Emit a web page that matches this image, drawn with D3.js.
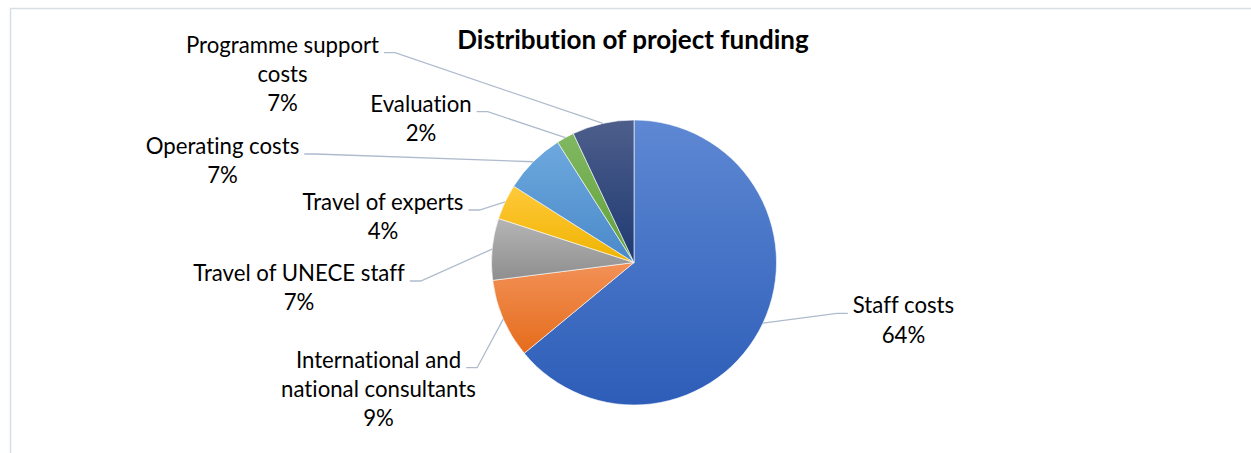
<!DOCTYPE html>
<html>
<head>
<meta charset="utf-8">
<script src="https://cdn.jsdelivr.net/npm/d3@7"></script>
<style>
  html, body { margin: 0; padding: 0; background: #fff; }
  svg { display: block; }
  text { font-variant-ligatures: none; font-feature-settings: "liga" 0, "clig" 0; }
</style>
</head>
<body>
<script>
// Budget lines, clockwise from 12 o'clock
const categories = [
  "Staff costs",
  "International and national consultants",
  "Travel of UNECE staff",
  "Travel of experts",
  "Operating costs",
  "Evaluation",
  "Programme support costs"
];
// Share of total funding, in percent
const shares = [64, 9, 7, 4, 7, 2, 7];
// Vertical gradient per slice: top colour, bottom colour
const topColors    = ["#5E88D3", "#F29157", "#B5B5B5", "#FFC93A", "#6DA9DE", "#80B862", "#4D5E8B"];
const bottomColors = ["#2D5DB8", "#E56C1C", "#8E8E8E", "#EFB300", "#4A89C9", "#63A039", "#1E3A72"];
const chartTitle = "Distribution of project funding";

const W = 1251, H = 453;
const cx = 634, cy = 262.5, R = 142.5;
const fontFamily = "Lato, 'Open Sans', sans-serif";
const labelSize = 22.2, titleSize = 26, lineStep = 29.3, wrapWidth = 215;

// Label blocks: centre x, first-line baseline, and which side the leader leaves from
const labelLayout = [
  { x: 903.5, y: 313.3, side: "left"  },
  { x: 378.5, y: 367.7, side: "right" },
  { x: 299,   y: 281,   side: "right" },
  { x: 383,   y: 210,   side: "right" },
  { x: 222.5, y: 154,   side: "right" },
  { x: 421,   y: 111.7, side: "right" },
  { x: 282.5, y: 52.7,  side: "right" }
];

const svg = d3.select("body").append("svg")
  .attr("width", W).attr("height", H)
  .attr("viewBox", `0 0 ${W} ${H}`);

// chart area frame (runs past the right and bottom edges)
svg.append("rect")
  .attr("x", 10.5).attr("y", 8.5)
  .attr("width", W + 20).attr("height", H + 20)
  .attr("fill", "none")
  .attr("stroke", "#D9DEE5")
  .attr("stroke-width", 1.5);

const defs = svg.append("defs");
categories.forEach((c, i) => {
  const g = defs.append("linearGradient")
    .attr("id", "grad" + i)
    .attr("x1", 0).attr("y1", 0).attr("x2", 0).attr("y2", 1);
  g.append("stop").attr("offset", "0%").attr("stop-color", topColors[i]);
  g.append("stop").attr("offset", "100%").attr("stop-color", bottomColors[i]);
});

const pie = d3.pie().sort(null).value(d => d.value);
const arcs = pie(categories.map((c, i) => ({ name: c, value: shares[i], i })));
const arc = d3.arc().innerRadius(0).outerRadius(R);
const edge = d3.arc().innerRadius(R).outerRadius(R);
const pct = d3.format(".0%");

const gPie = svg.append("g").attr("transform", `translate(${cx},${cy})`);
gPie.selectAll("path.slice")
  .data(arcs)
  .join("path")
  .attr("class", "slice")
  .attr("d", arc)
  .attr("fill", d => `url(#grad${d.data.i})`)
  .attr("stroke", "#ffffff")
  .attr("stroke-opacity", 0.8)
  .attr("stroke-width", 0.75);

svg.append("text")
  .attr("x", 633).attr("y", 48.5)
  .attr("text-anchor", "middle")
  .attr("font-family", fontFamily)
  .attr("font-size", titleSize)
  .attr("font-weight", "bold")
  .attr("fill", "#000")
  .text(chartTitle);

// measuring helper for wrapping
const probe = svg.append("text")
  .attr("font-family", fontFamily)
  .attr("font-size", labelSize)
  .attr("visibility", "hidden");
function textWidth(s) { probe.text(s); return probe.node().getComputedTextLength(); }
function wrap(s) {
  const words = s.split(" ");
  const lines = [];
  let cur = "";
  words.forEach(w => {
    const trial = cur ? cur + " " + w : w;
    if (cur && textWidth(trial) > wrapWidth) { lines.push(cur); cur = w; }
    else cur = trial;
  });
  if (cur) lines.push(cur);
  return lines;
}

const gLeaders = svg.append("g");
const gLabels = svg.append("g");
const line = d3.line();

arcs.forEach((d, i) => {
  const L = labelLayout[i];
  const lines = wrap(d.data.name).concat([pct(d.data.value / 100)]);
  const t = gLabels.append("text")
    .attr("text-anchor", "middle")
    .attr("font-family", fontFamily)
    .attr("font-size", labelSize)
    .attr("fill", "#000");
  lines.forEach((s, k) => {
    t.append("tspan").attr("x", L.x).attr("y", L.y + k * lineStep).text(s);
  });

  const w1 = textWidth(lines[0]);
  const dir = L.side === "right" ? 1 : -1;
  const sx = L.x + dir * (w1 / 2 + 5);
  const ex = sx + dir * 11;
  const [px, py] = edge.centroid(d);
  gLeaders.append("path")
    .attr("d", line([[sx, L.y], [ex, L.y], [cx + px, cy + py]]))
    .attr("fill", "none")
    .attr("stroke", "#AFBBCD")
    .attr("stroke-width", 1.3);
});
probe.remove();
</script>
</body>
</html>
